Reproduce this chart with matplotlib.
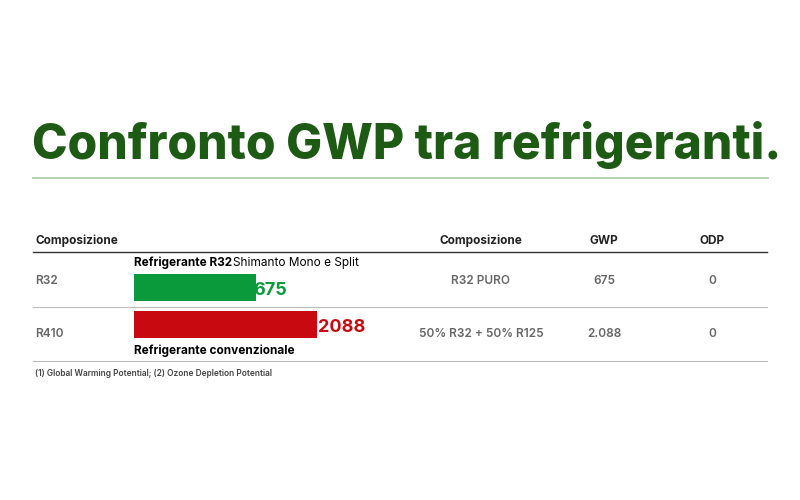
import matplotlib.pyplot as plt
from matplotlib.lines import Line2D

refrigerants = ["R32", "R410"]
gwp_values = [675, 2088]
gwp_labels = ["675", "2.088"]
odp_values = ["0", "0"]
compositions = ["R32 PURO", "50% R32 + 50% R125"]
bar_colors = ["#0a9a3c", "#c8090f"]

W, H = 800, 500
fig = plt.figure(figsize=(8, 5), dpi=100)
fig.patch.set_facecolor("white")


def px(x, y):
    return x / W, 1 - y / H


def txt(x, y, s, **kw):
    fx, fy = px(x, y)
    kw.setdefault("family", "Inter")
    fig.text(fx, fy, s, **kw)


def hline(y, x0, x1, color, lw):
    fig.add_artist(Line2D([x0 / W, x1 / W], [1 - y / H] * 2, color=color, lw=lw))


# title
txt(32, 145, "Confronto GWP tra refrigeranti.", fontsize=34.5, weight="heavy",
    color="#1d5a14", va="center", ha="left")
hline(178, 33, 768, "#a9c9a0", 1.2)

# header
hdr = dict(fontsize=8.5, weight="bold", color="#222222", va="center")
txt(35, 241, "Composizione", ha="left", **hdr)
txt(481, 241, "Composizione", ha="center", **hdr)
txt(604, 241, "GWP", ha="center", **hdr)
txt(712, 241, "ODP", ha="center", **hdr)
hline(252, 33, 767, "#333333", 1.0)

row_y = [281, 334]
for i, name in enumerate(refrigerants):
    cell = dict(fontsize=8.5, weight="semibold", color="#666666", va="center")
    txt(35, row_y[i], name, ha="left", **cell)
    txt(481, row_y[i], compositions[i], ha="center", **cell)
    txt(604, row_y[i], gwp_labels[i], ha="center", **cell)
    txt(712, row_y[i], odp_values[i], ha="center", **cell)
hline(307, 33, 767, "#bbbbbb", 0.8)
hline(361, 33, 767, "#bbbbbb", 0.8)

# bars on a log axis
x0, x1 = 134, 384
ax = fig.add_axes([x0 / W, 1 - 343 / H, (x1 - x0) / W, (343 - 269) / H])
ax.set_xscale("log")
base = 93
ax.set_xlim(base, 7000)
ax.set_ylim(1.5, -0.5)
ax.barh(range(len(gwp_values)), gwp_values, left=base, height=0.74,
        color=bar_colors)
for i, v in enumerate(gwp_values):
    ax.text(v * 1.08, i + 0.08, str(v), color=bar_colors[i], fontsize=13,
            weight="bold", family="Inter", va="center", ha="left")
ax.axis("off")

txt(134, 263, "Refrigerante R32", fontsize=8.5, weight="bold", va="center", ha="left")
txt(233, 263, "Shimanto Mono e Split", fontsize=8.5, va="center", ha="left")
txt(134, 351, "Refrigerante convenzionale", fontsize=8.5, weight="bold",
    va="center", ha="left")

txt(35, 374, "(1) Global Warming Potential; (2) Ozone Depletion Potential",
    fontsize=6, weight="semibold", color="#444444", va="center", ha="left")

fig.savefig("out.png", dpi=100, facecolor="white")
